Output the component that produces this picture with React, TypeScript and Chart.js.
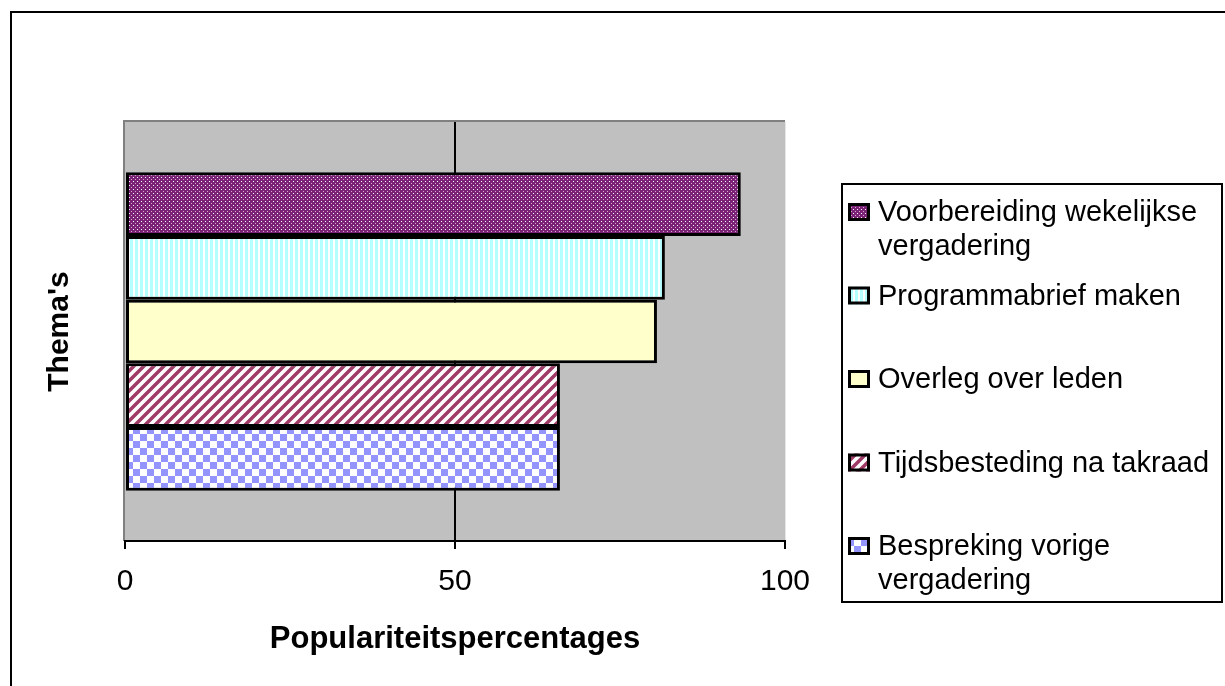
import React, { useEffect, useRef } from "react";
import { Chart, registerables } from "chart.js";

Chart.register(...registerables);

// ---- data ----
const categories = [""];
const seriesLabels = [
  "Voorbereiding wekelijkse vergadering",
  "Programmabrief maken",
  "Overleg over leden",
  "Tijdsbesteding na takraad",
  "Bespreking vorige vergadering",
];
const seriesValues = [93.3, 81.8, 80.6, 65.9, 65.9];
const seriesFills = ["dots", "vstripes", "solid", "diag", "checker"];
const xTickValues = [0, 50, 100];
const xTitle = "Populariteitspercentages";
const yTitle = "Thema's";

const FONT = "'Liberation Sans', Arial, Helvetica, sans-serif";

function makeFill(kind: string): CanvasPattern | string {
  if (kind === "solid") return "#ffffcc";
  const c = document.createElement("canvas");
  const g = c.getContext("2d")!;
  if (kind === "dots") {
    c.width = 4;
    c.height = 4;
    g.fillStyle = "#7a2275";
    g.fillRect(0, 0, 4, 4);
    g.fillStyle = "#ffffff";
    g.fillRect(1, 1, 1, 1);
    g.fillStyle = "#d9a6d6";
    g.fillRect(3, 3, 1, 1);
  } else if (kind === "vstripes") {
    c.width = 5;
    c.height = 2;
    g.fillStyle = "#ffffff";
    g.fillRect(0, 0, 5, 2);
    g.fillStyle = "#b4ffff";
    g.fillRect(0, 0, 3, 2);
  } else if (kind === "diag") {
    c.width = 10;
    c.height = 10;
    g.fillStyle = "#ffffff";
    g.fillRect(0, 0, 10, 10);
    g.strokeStyle = "#a03a66";
    g.lineWidth = 3.5;
    g.beginPath();
    g.moveTo(-5, 5);
    g.lineTo(5, -5);
    g.moveTo(0, 10);
    g.lineTo(10, 0);
    g.moveTo(5, 15);
    g.lineTo(15, 5);
    g.stroke();
  } else if (kind === "checker") {
    c.width = 14;
    c.height = 14;
    g.fillStyle = "#ffffff";
    g.fillRect(0, 0, 14, 14);
    g.fillStyle = "#9494ff";
    g.fillRect(0, 0, 7, 7);
    g.fillRect(7, 7, 7, 7);
  }
  return g.createPattern(c, "repeat")!;
}

function wrapText(ctx: CanvasRenderingContext2D, text: string, maxWidth: number): string[] {
  const words = text.split(" ");
  const lines: string[] = [];
  let cur = "";
  for (const w of words) {
    const test = cur ? cur + " " + w : w;
    if (ctx.measureText(test).width > maxWidth && cur) {
      lines.push(cur);
      cur = w;
    } else {
      cur = test;
    }
  }
  if (cur) lines.push(cur);
  return lines;
}

const framePlugin = {
  id: "frame",
  beforeDraw(chart: any) {
    const { ctx, chartArea: a } = chart;
    ctx.save();
    ctx.fillStyle = "#ffffff";
    ctx.fillRect(0, 0, chart.width, chart.height);
    // outer chart border
    ctx.strokeStyle = "#000000";
    ctx.lineWidth = 2;
    ctx.strokeRect(11, 12, chart.width + 40, chart.height + 40);
    // plot area
    ctx.fillStyle = "#c0c0c0";
    ctx.fillRect(a.left, a.top, a.right - a.left, a.bottom - a.top);
    ctx.strokeStyle = "#808080";
    ctx.lineWidth = 2;
    ctx.beginPath();
    ctx.moveTo(a.left - 1, a.bottom);
    ctx.lineTo(a.left - 1, a.top - 1);
    ctx.lineTo(a.right, a.top - 1);
    ctx.stroke();
    ctx.strokeStyle = "#e6e6e6";
    ctx.lineWidth = 1;
    ctx.beginPath();
    ctx.moveTo(a.right + 0.5, a.top);
    ctx.lineTo(a.right + 0.5, a.bottom);
    ctx.stroke();
    ctx.restore();
  },
};

const legendPlugin = {
  id: "boxLegend",
  afterDraw(chart: any) {
    const ctx: CanvasRenderingContext2D = chart.ctx;
    const box = { left: 842, top: 184, right: 1222, bottom: 602 };
    ctx.save();
    ctx.strokeStyle = "#000000";
    ctx.lineWidth = 2;
    ctx.strokeRect(box.left, box.top, box.right - box.left, box.bottom - box.top);
    ctx.font = "29px " + FONT;
    ctx.textBaseline = "middle";
    ctx.textAlign = "left";
    ctx.fillStyle = "#000000";
    const ds = chart.data.datasets;
    const n = ds.length;
    const first = box.top + 28;
    const last = box.bottom - 56;
    const step = (last - first) / (n - 1);
    const textX = 878;
    ds.forEach((d: any, i: number) => {
      const y = first + step * i;
      const sw = 22;
      const sh = 18;
      const sx = 848;
      const sy = y - sh / 2;
      ctx.fillStyle = d.backgroundColor;
      ctx.fillRect(sx, sy, sw, sh);
      ctx.strokeStyle = "#000000";
      ctx.lineWidth = 3;
      ctx.strokeRect(sx + 1.5, sy + 1.5, sw - 3, sh - 3);
      ctx.fillStyle = "#000000";
      const lines = wrapText(ctx, d.label, box.right - textX - 6);
      lines.forEach((ln, j) => ctx.fillText(ln, textX, y + 1 + j * 34));
    });
    ctx.restore();
  },
};

export default function App() {
  const ref = useRef<HTMLCanvasElement | null>(null);

  useEffect(() => {
    if (!ref.current) return;
    const datasets = seriesLabels.map((label, i) => ({
      label,
      data: [seriesValues[i]],
      backgroundColor: makeFill(seriesFills[i]),
      borderColor: "#000000",
      borderWidth: 3,
      borderSkipped: false as any,
      categoryPercentage: 0.76,
      barPercentage: 1.0,
    }));
    const chart = new Chart(ref.current, {
      type: "bar",
      data: { labels: categories, datasets },
      plugins: [framePlugin, legendPlugin],
      options: {
        indexAxis: "y",
        animation: false,
        responsive: false,
        maintainAspectRatio: false,
        devicePixelRatio: 1,
        layout: { padding: { left: 40, top: 122, right: 440, bottom: 0 } },
        plugins: {
          legend: { display: false },
          tooltip: { enabled: false },
          title: { display: false },
        },
        scales: {
          x: {
            type: "linear",
            position: "bottom",
            min: xTickValues[0],
            max: xTickValues[xTickValues.length - 1],
            afterBuildTicks: (scale: any) => {
              scale.ticks = xTickValues.map((v) => ({ value: v }));
            },
            afterFit: (scale: any) => {
              scale.height = 145;
            },
            ticks: {
              color: "#000000",
              font: { family: FONT, size: 30 },
              padding: 15,
              maxRotation: 0,
              autoSkip: false,
            },
            grid: {
              drawOnChartArea: true,
              drawTicks: true,
              tickLength: 8,
              tickColor: "#000000",
              tickWidth: 2,
              lineWidth: 2,
              color: (c: any) => (c.tick && c.tick.value === 50 ? "#000000" : "rgba(0,0,0,0)"),
            },
            border: { display: true, color: "#000000", width: 2 },
            title: {
              display: true,
              text: xTitle,
              color: "#000000",
              font: { family: FONT, size: 31, weight: "bold" },
              padding: { top: 0, bottom: 28 },
            },
          },
          y: {
            type: "category",
            position: "left",
            afterFit: (scale: any) => {
              scale.width = 85;
            },
            ticks: { display: false },
            grid: { display: false },
            border: { display: false },
            title: {
              display: true,
              text: yTitle,
              color: "#000000",
              font: { family: FONT, size: 30, weight: "bold" },
              padding: { top: 2, bottom: 0 },
            },
          },
        },
      } as any,
    });
    return () => chart.destroy();
  }, []);

  return (
    <div style={{ position: "absolute", left: 0, top: 0, width: 1225, height: 686, background: "#ffffff" }}>
      <canvas ref={ref} width={1225} height={686} style={{ display: "block" }} />
    </div>
  );
}
